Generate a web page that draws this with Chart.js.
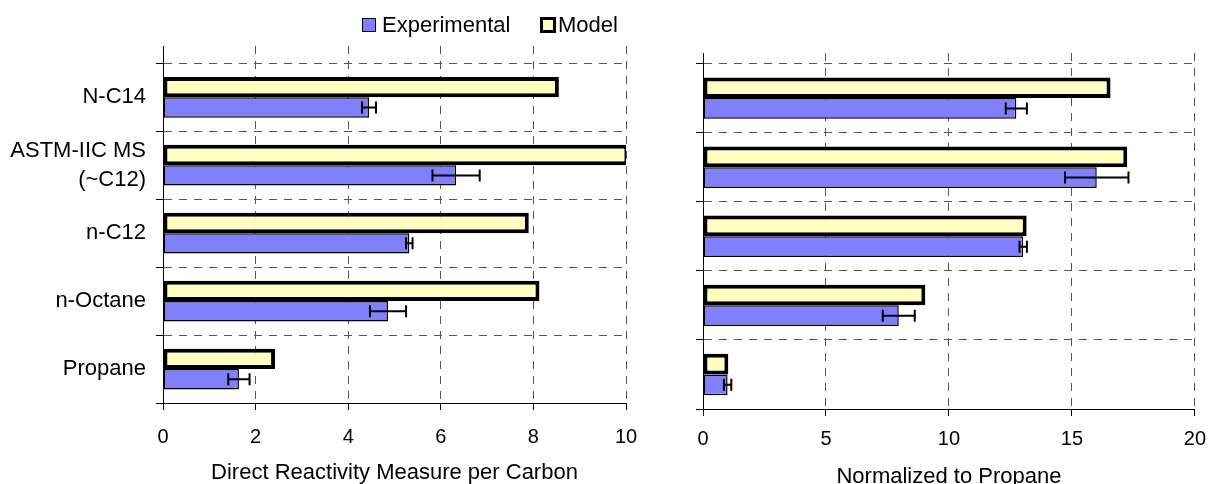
<!DOCTYPE html>
<html>
<head>
<meta charset="utf-8">
<script src="https://cdn.jsdelivr.net/npm/chart.js@4.4.1/dist/chart.umd.min.js"></script>
<style>
    body { margin: 0; background: #fff; }
    #wrap { position: relative; width: 1217px; height: 484px; font-family: "Liberation Sans", Arial, sans-serif; }
    #leftChart { position: absolute; left: 0; top: 0; }
    #rightChart { position: absolute; left: 660px; top: 0; }
    .legend { position: absolute; top: 12px; font-size: 22px; line-height: 26px; color: #000; }
    .legend span.box { position: absolute; top: 6px; width: 14px; height: 14px; box-sizing: border-box; }
</style>
</head>
<body>
<div id="wrap">
    <canvas id="leftChart" width="660" height="484"></canvas>
    <canvas id="rightChart" width="557" height="484"></canvas>
    <div class="legend" style="left:362px;">
        <span class="box" style="left:0; background:#8080FF; border:1.5px solid #000;"></span>
        <span style="position:absolute; left:20px; white-space:nowrap;">Experimental</span>
    </div>
    <div class="legend" style="left:540px;">
        <span class="box" style="left:0; width:16px; height:16px; top:5px; background:#FFFFC0; border:3.5px solid #000;"></span>
        <span style="position:absolute; left:18px; white-space:nowrap;">Model</span>
    </div>
</div>
<script>
// categories, top to bottom as in the picture
const categories = ['N-C14', ['ASTM-IIC MS', '(~C12)'], 'n-C12', 'n-Octane', 'Propane']

// direct reactivity measure per carbon
const reactModel = [8.55, 10.05, 7.9, 8.13, 2.42]
const reactExp = [4.45, 6.33, 5.32, 4.86, 1.64]
const reactErr = [0.15, 0.51, 0.07, 0.39, 0.23]
const reactTicks = [0, 2, 4, 6, 8, 10]

// normalized to propane
const normModel = [16.57, 17.25, 13.16, 9.04, 1.03]
const normExp = [12.74, 16.01, 13.02, 7.96, 1.0]
const normErr = [0.43, 1.29, 0.15, 0.65, 0.15]
const normTicks = [0, 5, 10, 15, 20]

const font = "'Liberation Sans', Arial, sans-serif"
const gridColor = '#555'

// position on the category axis (Propane at the bottom = 0)
const pos = i => categories.length - 1 - i
const points = arr => arr.map((v, i) => ({ x: v, y: pos(i) }))

const errorBars = {
    id: 'errorBars',
    afterDatasetsDraw(chart, args, opts) {
        const { ctx, scales } = chart
        const meta = chart.getDatasetMeta(opts.datasetIndex)
        const values = chart.data.datasets[opts.datasetIndex].data
        ctx.save()
        ctx.strokeStyle = '#000'
        ctx.lineWidth = 2
        meta.data.forEach((bar, i) => {
            const v = values[i].x
            const e = opts.errors[i]
            const y = bar.y
            const x1 = scales.x.getPixelForValue(v - e)
            const x2 = scales.x.getPixelForValue(v + e)
            ctx.beginPath()
            ctx.moveTo(x1, y)
            ctx.lineTo(x2, y)
            ctx.moveTo(x1, y - 6)
            ctx.lineTo(x1, y + 6)
            ctx.moveTo(x2, y - 6)
            ctx.lineTo(x2, y + 6)
            ctx.stroke()
        })
        ctx.restore()
    }
}

const makeChart = (id, model, exp, err, ticks, title, cfg) => {
    const ctx = document.getElementById(id).getContext('2d')
    new Chart(ctx, {
        type: 'bar',
        data: {
            datasets: [{
                label: 'Model',
                data: points(model),
                backgroundColor: '#FFFFC0',
                borderColor: '#000',
                borderWidth: 4,
                borderSkipped: false,
            }, {
                label: 'Experimental',
                data: points(exp),
                backgroundColor: '#8080FF',
                borderColor: '#000',
                borderWidth: 1.5,
                borderSkipped: false,
            }]
        },
        options: {
            indexAxis: 'y',
            responsive: false,
            animation: false,
            categoryPercentage: 0.6,
            barPercentage: 1.0,
            layout: {
                padding: { top: cfg.top, right: cfg.right, bottom: 0, left: 0 }
            },
            scales: {
                x: {
                    type: 'linear',
                    min: ticks[0],
                    max: ticks[ticks.length - 1],
                    afterBuildTicks: axis => { axis.ticks = ticks.map(v => ({ value: v })) },
                    afterFit: axis => { axis.height = cfg.xHeight },
                    grid: { color: gridColor, lineWidth: 1, tickLength: 7, tickColor: '#000' },
                    border: { display: true, color: '#000', width: 1, dash: [8, 7] },
                    ticks: {
                        padding: cfg.tickPad,
                        color: '#000',
                        font: { family: font, size: 20 }
                    },
                    title: {
                        display: true,
                        text: title,
                        color: '#000',
                        padding: { top: 0, bottom: cfg.titlePad },
                        font: { family: font, size: 22, lineHeight: 1 }
                    }
                },
                y: {
                    type: 'linear',
                    offset: false,
                    min: -0.5,
                    max: cfg.yMax,
                    afterBuildTicks: axis => { axis.ticks = categories.map((c, i) => ({ value: i })) },
                    afterFit: axis => { axis.width = cfg.yWidth },
                    grid: { offset: true, color: gridColor, lineWidth: 1, tickLength: 7, tickColor: '#000' },
                    border: { display: true, color: '#000', width: 1, dash: [8, 7] },
                    ticks: {
                        display: cfg.labels,
                        padding: 10,
                        color: '#000',
                        callback: v => categories[pos(v)],
                        font: { family: font, size: 22, lineHeight: 1.3 }
                    }
                }
            },
            plugins: {
                legend: { display: false },
                tooltip: { enabled: false },
                errorBars: { datasetIndex: 1, errors: err }
            }
        },
        plugins: [errorBars]
    })
}

makeChart('leftChart', reactModel, reactExp, reactErr, reactTicks, 'Direct Reactivity Measure per Carbon', {
    top: 46, right: 34, xHeight: 81, yWidth: 163, yMax: 4.755, labels: true, tickPad: 15, titlePad: 0
})
makeChart('rightChart', normModel, normExp, normErr, normTicks, 'Normalized to Propane', {
    top: 53, right: 17, xHeight: 75, yWidth: 43, yMax: 4.653, labels: false, tickPad: 11, titlePad: -4
})
</script>
</body>
</html>
